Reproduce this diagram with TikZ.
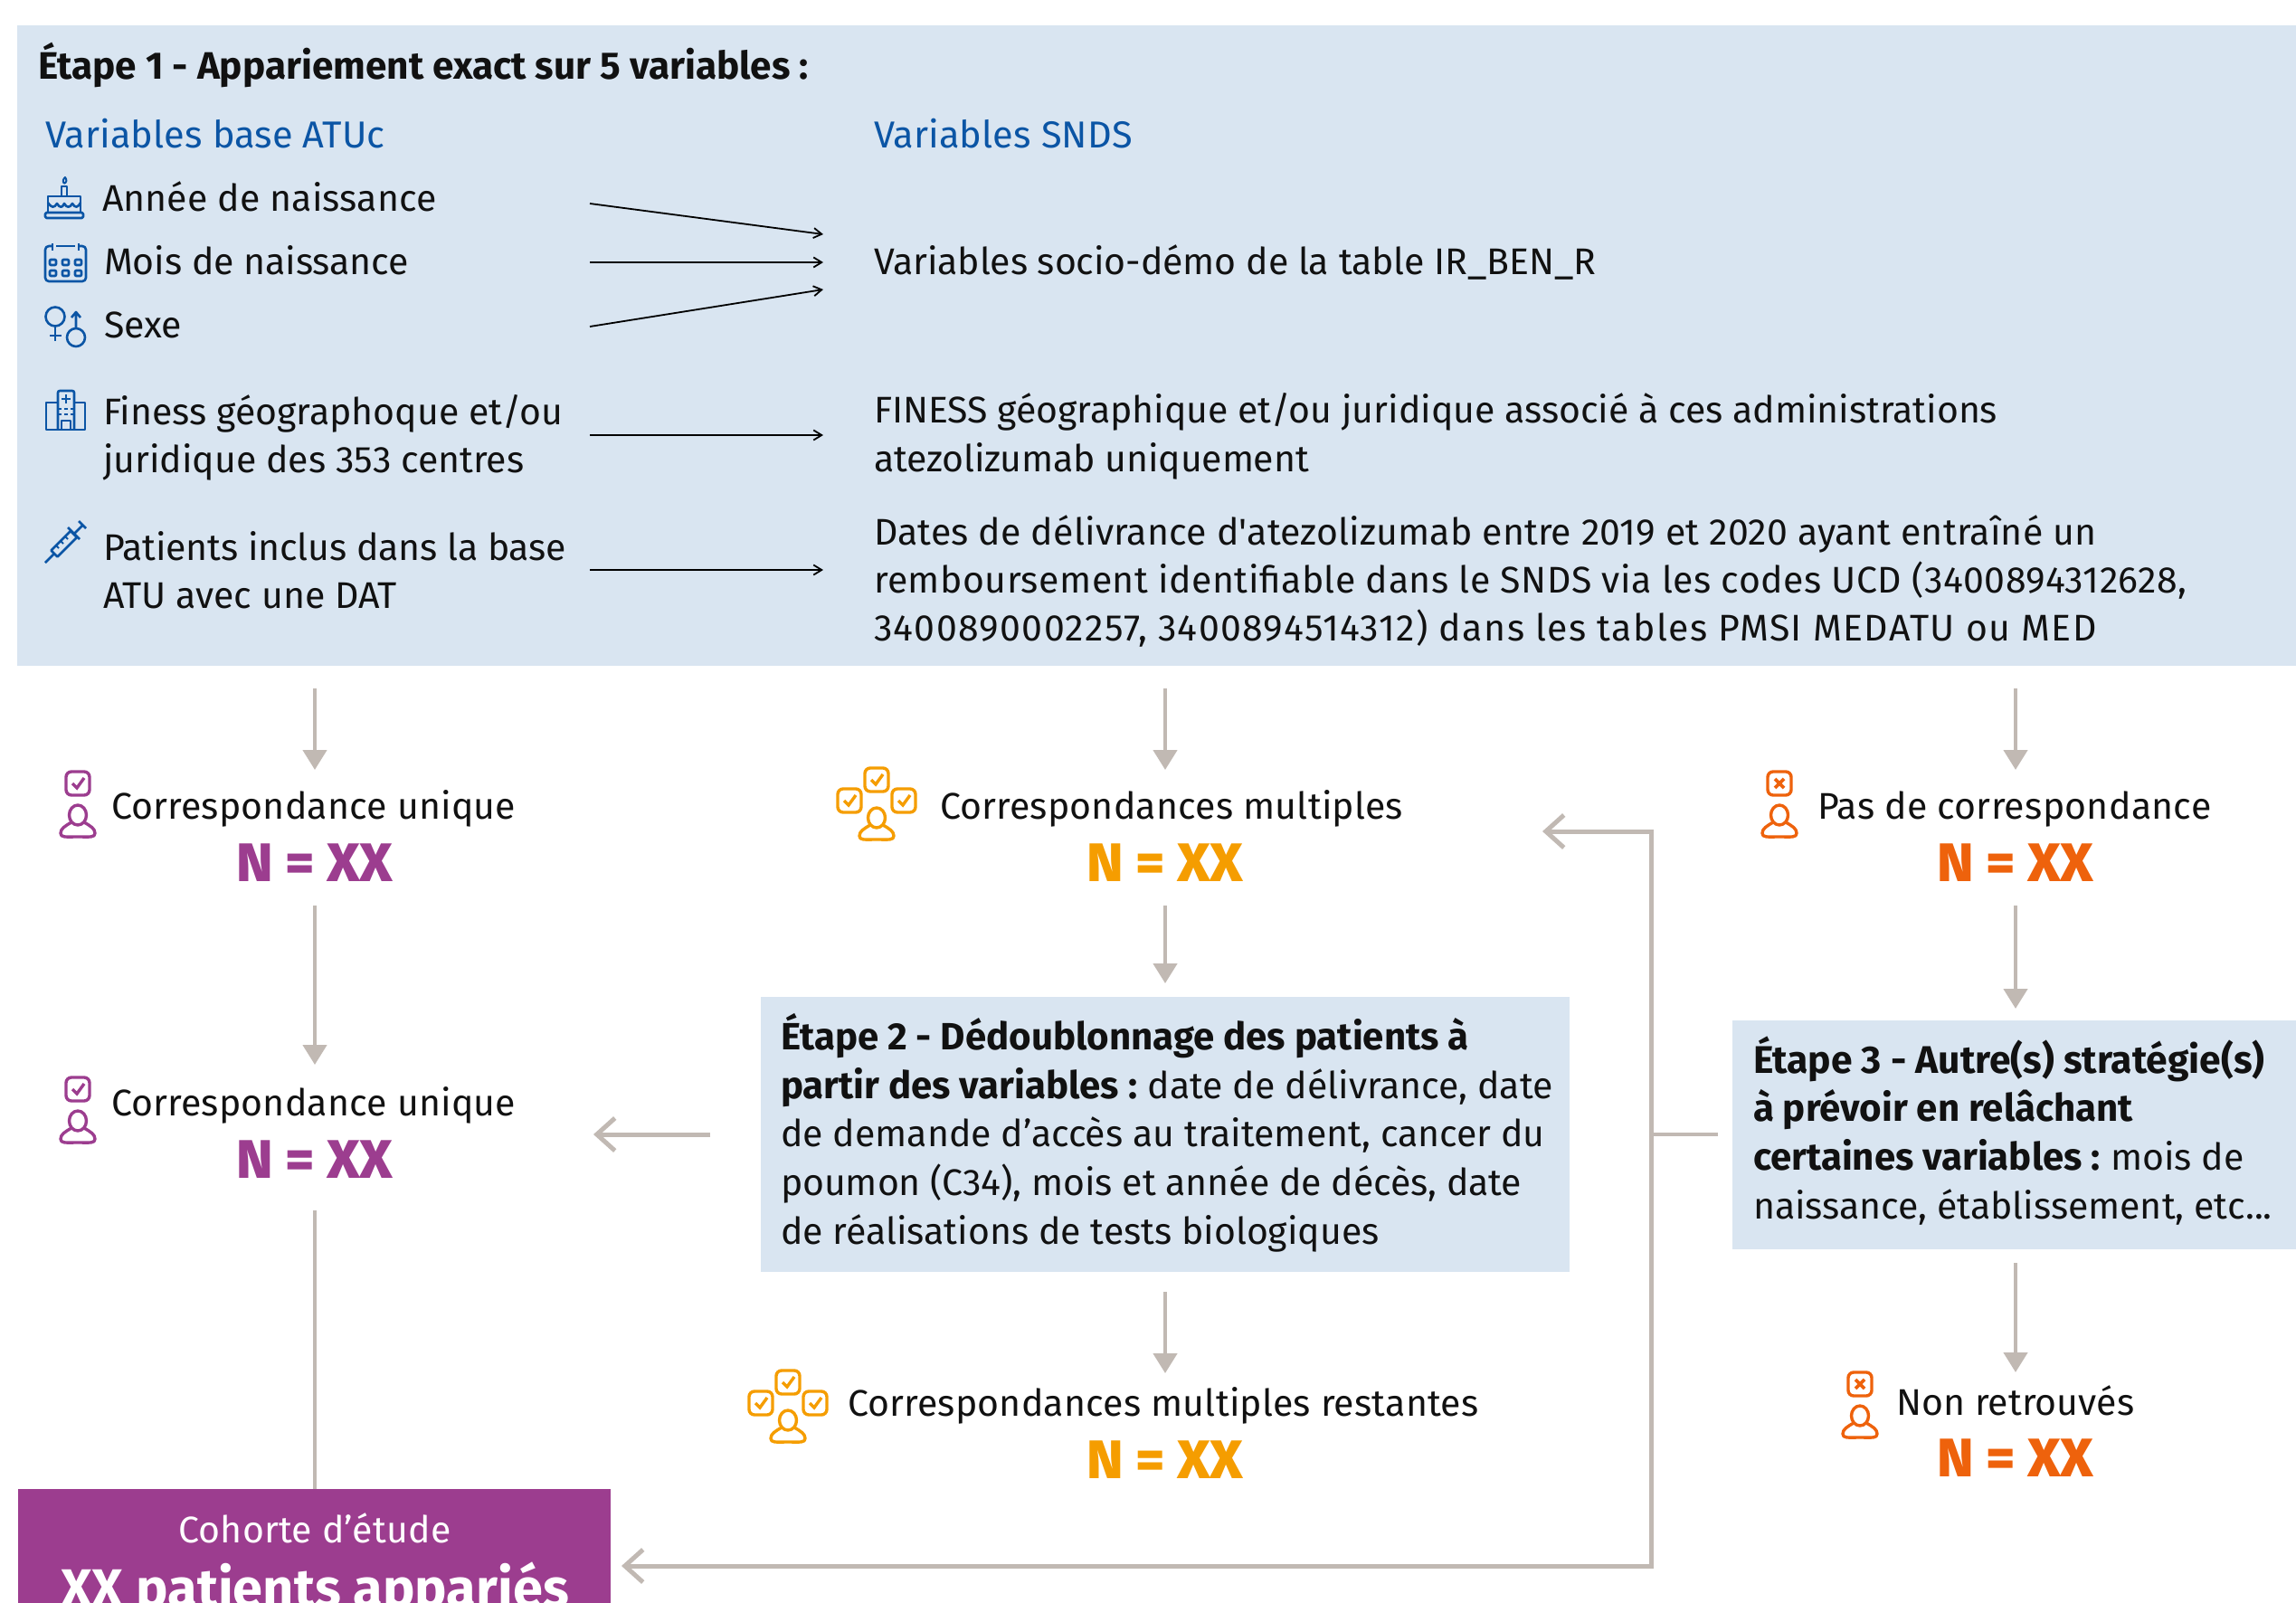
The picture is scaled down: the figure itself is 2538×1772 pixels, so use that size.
\documentclass[tikz,border=0pt]{standalone}
\usepackage{fontspec}
\setmainfont{Fira Sans}
\newfontfamily\lourd[FakeStretch=1.03]{Fira Sans ExtraBold}
\usetikzlibrary{arrows.meta}
\definecolor{panel}{HTML}{D9E5F1}
\definecolor{bleu}{HTML}{0B55A5}
\definecolor{violet}{HTML}{9C3D8F}
\definecolor{ambre}{HTML}{F59D00}
\definecolor{rouille}{HTML}{EE620C}
\definecolor{flux}{HTML}{C1B9B3}
\definecolor{encre}{HTML}{111111}
\newcommand{\ls}[1]{\addfontfeature{LetterSpace=#1}}
\newcommand{\gras}[1]{{\fontsize{42}{53}\selectfont\bfseries #1}}
\newcommand{\nxx}{N\kern13.5pt=\kern13.5pt XX}
\tikzset{
  corps/.style={anchor=base west,inner sep=0pt,outer sep=0pt,text=encre,align=left,font=\fontsize{41}{53}\selectfont},
  ample/.style={corps,font=\fontsize{41}{53.6}\selectfont},
  soustitre/.style={corps,text=bleu,font=\fontsize{41.5}{53}\selectfont},
  effectif/.style={anchor=base,inner sep=0pt,font=\fontsize{60}{60}\selectfont\lourd},
  titrebas/.style={anchor=base,inner sep=0pt,font=\fontsize{59.5}{60}\selectfont\bfseries},
  bloc/.style={fill=panel,draw=none},
  fin/.style={black,line width=1.8pt,-{Straight Barb[length=9pt,width=11pt]}},
  flot/.style={flux,line width=4.5pt,-{Triangle[length=22pt,width=26pt]}},
  retour/.style={flux,line width=5pt,-{Straight Barb[length=20pt,width=36pt]}},
  trait/.style={flux,line width=4.5pt},
  ico/.style={bleu,line width=2.6pt,line join=round},
  personne/.pic={
    \draw[line width=3.4pt,line join=round] (0,0) ellipse (9.5 and 11);
    \draw[line width=3.4pt,line join=round] (-7,8) .. controls (-14,12) and (-19,15) .. (-19,20) .. controls (-19,25) and (-14,24) .. (0,24) .. controls (14,24) and (19,25) .. (19,20) .. controls (19,15) and (14,12) .. (7,8);
  },
  coche/.pic={
    \draw[line width=3.4pt,rounded corners=6pt] (-13,-13) rectangle (13,13);
    \draw[line width=3.4pt] (-6,0) -- (-1,5) -- (7,-6);
  },
  croix/.pic={
    \draw[line width=3.4pt,rounded corners=6pt] (-13,-13) rectangle (13,13);
    \draw[line width=3.8pt] (-5,-5) -- (5,5) (-5,5) -- (5,-5);
  },
  multi/.pic={
    \pic at (0,0) {coche};
    \pic at (-30,23) {coche};
    \pic at (30,23) {coche};
    \pic at (0,42) {personne};
  },
  unique/.pic={
    \pic at (0,0) {coche};
    \pic at (0,35) {personne};
  },
  aucun/.pic={
    \pic at (0,0) {croix};
    \pic at (0,35) {personne};
  }
}
\begin{document}
\begin{tikzpicture}[x=1pt,y=-1pt]
\useasboundingbox (0,0) rectangle (2538,1772);
\fill[white] (0,0) rectangle (2538,1772);

% panels
\fill[bloc] (19,28) rectangle (2538,736);
\fill[bloc] (841,1102) rectangle (1735,1406);
\fill[bloc] (1915,1128) rectangle (2538,1381);
\fill[violet] (20,1646) rectangle (675,1790);

% step 1 header
\node[corps,font=\fontsize{42.3}{53}\selectfont\bfseries] (t1) at (42,87) {Étape 1 - Appariement exact sur 5 variables :};
\node[soustitre] (vatu) at (50,163) {{\ls{.3}Variables base ATUc}};
\node[soustitre] (vsnds) at (966,163) {{\ls{.3}Variables SNDS}};

% left column
\node[corps] (an) at (113,233.5) {{\ls{.3}Année de naissance}};
\node[corps] (mo) at (115,303.5) {{\ls{-.2}Mois de naissance}};
\node[corps] (se) at (115,373.5) {Sexe};
\node[corps] (fi) at (114,522) {Finess géographoque et/ou\\juridique des 353 centres};
\node[corps] (pa) at (114,672) {{\ls{-.4}Patients inclus dans la base}\\ATU avec une DAT};

% right column
\node[corps] (so) at (966,303.5) {{\ls{-.2}Variables socio-démo de la table IR\_BEN\_R}};
\node[ample] (fg) at (966,521) {{\ls{-.1}FINESS géographique et/ou juridique associé à ces administrations}\\{\ls{-.4}atezolizumab uniquement}};
\node[corps] (da) at (966,708) {{\ls{.45}Dates de délivrance d\textquotesingle atezolizumab entre 2019 et 2020 ayant entraîné un}\\{\ls{1.2}remboursement identifiable dans le SNDS via les codes UCD (3400894312628,}\\{\ls{3.4}3400890002257, 3400894514312) dans les tables PMSI MEDATU ou MED}};

% thin arrows
\coordinate (a1s) at (652,225); \coordinate (a1e) at (910,259);
\coordinate (a2s) at (652,290); \coordinate (a2e) at (910,290);
\coordinate (a3s) at (652,361); \coordinate (a3e) at (910,320);
\coordinate (a4s) at (652,481); \coordinate (a4e) at (910,481);
\coordinate (a5s) at (652,630); \coordinate (a5e) at (910,630);
\draw[fin] (a1s) -- (a1e);
\draw[fin] (a2s) -- (a2e);
\draw[fin] (a3s) -- (a3e);
\draw[fin] (a4s) -- (a4e);
\draw[fin] (a5s) -- (a5e);

% blue icons
\begin{scope}[ico]
  % cake
  \draw[rounded corners=1.5pt] (50,235) rectangle (92,241);
  \draw (53,235) -- (53,217) -- (89,217) -- (89,235);
  \draw (53,224) .. controls (57,230) and (60,230) .. (63,225) .. controls (66,230) and (69,230) .. (71,225) .. controls (74,230) and (77,230) .. (80,225) .. controls (83,230) and (86,230) .. (89,224);
  \draw (68,217) -- (68,206) -- (74,206) -- (74,217);
  \draw[line width=2pt] (71,203) .. controls (68,200) and (71,197) .. (72,196) .. controls (74,199) and (74,201) .. (71,203);
  % calendar
  \draw[rounded corners=4pt] (58,272) -- (50,272) -- (50,311) -- (95,311) -- (95,272) -- (87,272);
  \draw (62,272) -- (83,272);
  \draw (58,269) -- (58,277) (87,269) -- (87,277);
  \foreach \cx in {58.5,72.5,86.5} \foreach \cy in {290,302} \draw[rounded corners=1pt] (\cx-3.5,\cy-3) rectangle (\cx+3.5,\cy+3);
  % gender
  \draw (61,350) circle (10.5);
  \draw (61,360.5) -- (61,377) (55,371) -- (68,371);
  \draw (84,373) circle (10);
  \draw (84,363) -- (84,345) (79,351) -- (84,345) -- (89,351);
  % hospital
  \draw (64,445) -- (51,445) -- (51,475) -- (94,475) -- (94,445) -- (82,445);
  \draw[rounded corners=2pt] (64,475) -- (64,432) -- (82,432) -- (82,475);
  \draw (73,436) -- (73,446) (68,441) -- (78,441);
  \draw (68,475) -- (68,465) -- (78,465) -- (78,475);
  \draw[line width=2pt,dash pattern=on 4pt off 3pt] (64,452) -- (82,452) (64,458) -- (82,458);
  % syringe
  \draw (50,622) -- (60,612);
  \draw (56.5,608.5) -- (63.5,615.5) -- (85,594) -- (78,587) -- cycle;
  \draw (82,590) -- (91,581) (87,576) -- (95,584);
  \draw (75,583) -- (88,596);
  \draw[line width=1.8pt] (62,603) -- (65,606) (67,598) -- (70,601) (72,593) -- (75,596);
\end{scope}

% column 1
\coordinate (d1s) at (348,761); \coordinate (d1e) at (348,851);
\node[corps] (cu1) at (123,905) {{\ls{.5}Correspondance unique}};
\node[effectif,text=violet] (n1) at (348,974) {\nxx};
\pic[violet] at (86,866) {unique};
\node[corps] (cu2) at (123,1233) {{\ls{.5}Correspondance unique}};
\node[effectif,text=violet] (n2) at (348,1302) {\nxx};
\pic[violet] at (86,1204) {unique};

% column 2
\coordinate (d2s) at (1288,761); \coordinate (d2e) at (1288,851);
\node[corps] (cm) at (1039,905) {{\ls{.5}Correspondances multiples}};
\node[effectif,text=ambre] (n3) at (1288,974) {\nxx};
\pic[ambre] at (969,862) {multi};
\node[ample] (e2) at (863,1375) {\gras{Étape 2 - Dédoublonnage des patients à}\\\gras{partir des variables :}\kern-3pt{} date de délivrance, date\\de demande d’accès au traitement, cancer du\\{\ls{-.2}poumon (C34), mois et année de décès, date}\\de réalisations de tests biologiques};
\node[corps] (cr) at (937,1565) {{\ls{.5}Correspondances multiples restantes}};
\node[effectif,text=ambre] (n4) at (1288,1634) {\nxx};
\pic[ambre] at (871,1528) {multi};

% column 3
\coordinate (d3s) at (2228,761); \coordinate (d3e) at (2228,851);
\node[corps] (pc) at (2009,905) {{\ls{.7}Pas de correspondance}};
\node[effectif,text=rouille] (n5) at (2228,974) {\nxx};
\pic[rouille] at (1967,866) {aucun};
\node[ample] (e3) at (1938,1347) {{\fontsize{42.6}{53}\selectfont\bfseries Étape 3 - Autre(s) stratégie(s)}\\\gras{à prévoir en relâchant}\\\gras{certaines variables :}\kern-3pt{} mois de\\naissance, établissement, etc...};
\node[corps] (nr) at (2096,1564) {{\ls{.2}Non retrouvés}};
\node[effectif,text=rouille] (n6) at (2228,1632) {\nxx};
\pic[rouille] at (2056,1530) {aucun};

% cohort
\node[corps,anchor=base,text=white] (co) at (348,1705) {{\ls{.5}Cohorte d’étude}};
\node[titrebas,text=white] (pt) at (348,1776) {XX patients appariés};

% grey arrows
\draw[flot] (d1s) -- (d1e);
\draw[flot] (d2s) -- (d2e);
\draw[flot] (d3s) -- (d3e);
\coordinate (f1s) at (348,1001); \coordinate (f1e) at (348,1177);
\coordinate (f2s) at (1288,1001); \coordinate (f2e) at (1288,1087);
\coordinate (f3s) at (2228,1001); \coordinate (f3e) at (2228,1115);
\coordinate (g2s) at (1288,1428); \coordinate (g2e) at (1288,1518);
\coordinate (g3s) at (2228,1396); \coordinate (g3e) at (2228,1517);
\draw[flot] (f1s) -- (f1e);
\draw[flot] (f2s) -- (f2e);
\draw[flot] (f3s) -- (f3e);
\draw[flot] (g2s) -- (g2e);
\draw[flot] (g3s) -- (g3e);
\coordinate (cs) at (348,1338); \coordinate (ce) at (348,1646);
\draw[trait] (cs) -- (ce);
\coordinate (ls) at (785,1254); \coordinate (le) at (656,1254);
\draw[retour] (ls) -- (le);
\coordinate (rs) at (1899,1254); \coordinate (rm) at (1825,1254);
\coordinate (rt) at (1825,919); \coordinate (rb) at (1825,1731);
\coordinate (re1) at (1705,919); \coordinate (re2) at (687,1731);
\draw[trait] (rs) -- (rm);
\draw[retour,line join=miter] (rm) -- (rt) -- (re1);
\draw[retour,line join=miter] (rm) -- (rb) -- (re2);
\end{tikzpicture}
\end{document}
